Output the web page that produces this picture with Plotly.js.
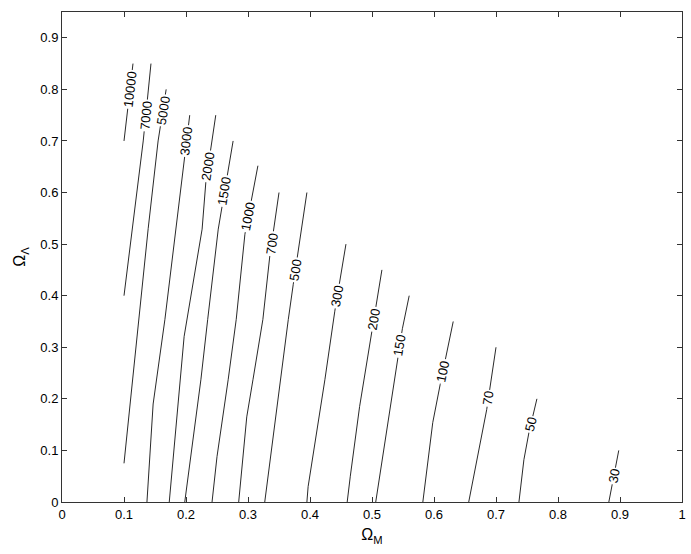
<!DOCTYPE html>
<html>
<head>
<meta charset="utf-8">
<script src="https://cdn.plot.ly/plotly-3.0.1.min.js"></script>
<style>
  html, body { margin: 0; padding: 0; background: #fff; }
  #plot { width: 691px; height: 554px; }
</style>
</head>
<body>
<div id="plot"></div>
<script>
// contour levels, one polyline per level (Omega_M, Omega_Lambda)
var levels = [10000, 7000, 5000, 3000, 2000, 1500, 1000, 700, 500, 300, 200, 150, 100, 70, 50, 30];

var omegaM = [
  [0.100, 0.1145],
  [0.100, 0.113, 0.131, 0.1435],
  [0.100, 0.124, 0.139, 0.155, 0.168],
  [0.137, 0.147, 0.166, 0.184, 0.206],
  [0.173, 0.197, 0.226, 0.232, 0.248],
  [0.198, 0.224, 0.235, 0.252, 0.276],
  [0.242, 0.250, 0.268, 0.281, 0.295, 0.316],
  [0.285, 0.298, 0.308, 0.324, 0.335, 0.350],
  [0.327, 0.352, 0.365, 0.373, 0.395],
  [0.395, 0.397, 0.424, 0.440, 0.458],
  [0.460, 0.465, 0.480, 0.516],
  [0.506, 0.526, 0.540, 0.549, 0.560],
  [0.582, 0.598, 0.610, 0.631],
  [0.656, 0.685, 0.700],
  [0.737, 0.745, 0.753, 0.766],
  [0.882, 0.898]
];

var omegaL = [
  [0.70, 0.85],
  [0.40, 0.53, 0.70, 0.85],
  [0.075, 0.354, 0.53, 0.70, 0.80],
  [0, 0.19, 0.354, 0.53, 0.75],
  [0, 0.321, 0.529, 0.62, 0.75],
  [0, 0.237, 0.354, 0.529, 0.70],
  [0, 0.088, 0.237, 0.354, 0.519, 0.652],
  [0, 0.165, 0.237, 0.354, 0.475, 0.60],
  [0, 0.237, 0.354, 0.422, 0.60],
  [0, 0.03, 0.237, 0.37, 0.50],
  [0, 0.05, 0.185, 0.45],
  [0, 0.16, 0.27, 0.336, 0.40],
  [0, 0.154, 0.228, 0.35],
  [0, 0.179, 0.30],
  [0, 0.082, 0.134, 0.20],
  [0, 0.10]
];

// Omega_Lambda at which each inline label sits
var labelAt = [0.80, 0.75, 0.76, 0.70, 0.65, 0.603, 0.553, 0.50, 0.451, 0.40, 0.354, 0.303, 0.253, 0.202, 0.15, 0.05];

var W = 691, H = 554;
var mar = {l: 62, r: 9, t: 12, b: 52};
var xRange = [0, 1], yRange = [0, 0.95];
var pxX = (W - mar.l - mar.r) / (xRange[1] - xRange[0]);
var pxY = (H - mar.t - mar.b) / (yRange[1] - yRange[0]);

var data = [];
var annotations = [];

levels.forEach(function (lev, i) {
  var xs = omegaM[i], ys = omegaL[i];
  data.push({
    x: xs, y: ys,
    type: 'scatter', mode: 'lines',
    line: {color: '#111', width: 0.9},
    hoverinfo: 'skip', showlegend: false
  });

  // find segment containing the label and interpolate
  var yl = labelAt[i], k = 0;
  for (var j = 0; j < ys.length - 1; j++) {
    if (yl >= ys[j] && yl <= ys[j + 1]) { k = j; break; }
  }
  var t = (yl - ys[k]) / (ys[k + 1] - ys[k]);
  var xl = xs[k] + t * (xs[k + 1] - xs[k]);
  var ang = Math.atan2((ys[k + 1] - ys[k]) * pxY, (xs[k + 1] - xs[k]) * pxX) * 180 / Math.PI;

  annotations.push({
    x: xl, y: yl, xref: 'x', yref: 'y',
    text: String(lev), showarrow: false,
    textangle: -ang,
    bgcolor: '#fff', borderpad: 1,
    font: {family: 'Liberation Sans, Arial, sans-serif', size: 13, color: '#000'}
  });
});

var axisStyle = {
  showline: true, linecolor: '#333', linewidth: 1, mirror: 'ticks',
  ticks: 'inside', ticklen: 5, tickcolor: '#333', tickwidth: 1,
  showgrid: false, zeroline: false,
  tickfont: {family: 'Liberation Sans, Arial, sans-serif', size: 13, color: '#000'}
};

var layout = {
  width: W, height: H,
  margin: mar,
  paper_bgcolor: '#fff', plot_bgcolor: '#fff',
  xaxis: Object.assign({}, axisStyle, {
    range: xRange, dtick: 0.1, tick0: 0,
    title: {text: 'Ω<sub>M</sub>', font: {family: 'Liberation Sans, Arial, sans-serif', size: 16, color: '#000'}, standoff: 8}
  }),
  yaxis: Object.assign({}, axisStyle, {
    range: yRange, dtick: 0.1, tick0: 0,
    title: {text: 'Ω<sub>Λ</sub>', font: {family: 'Liberation Sans, Arial, sans-serif', size: 16, color: '#000'}, standoff: 10}
  }),
  annotations: annotations
};

Plotly.newPlot('plot', data, layout, {staticPlot: true});
</script>
</body>
</html>
